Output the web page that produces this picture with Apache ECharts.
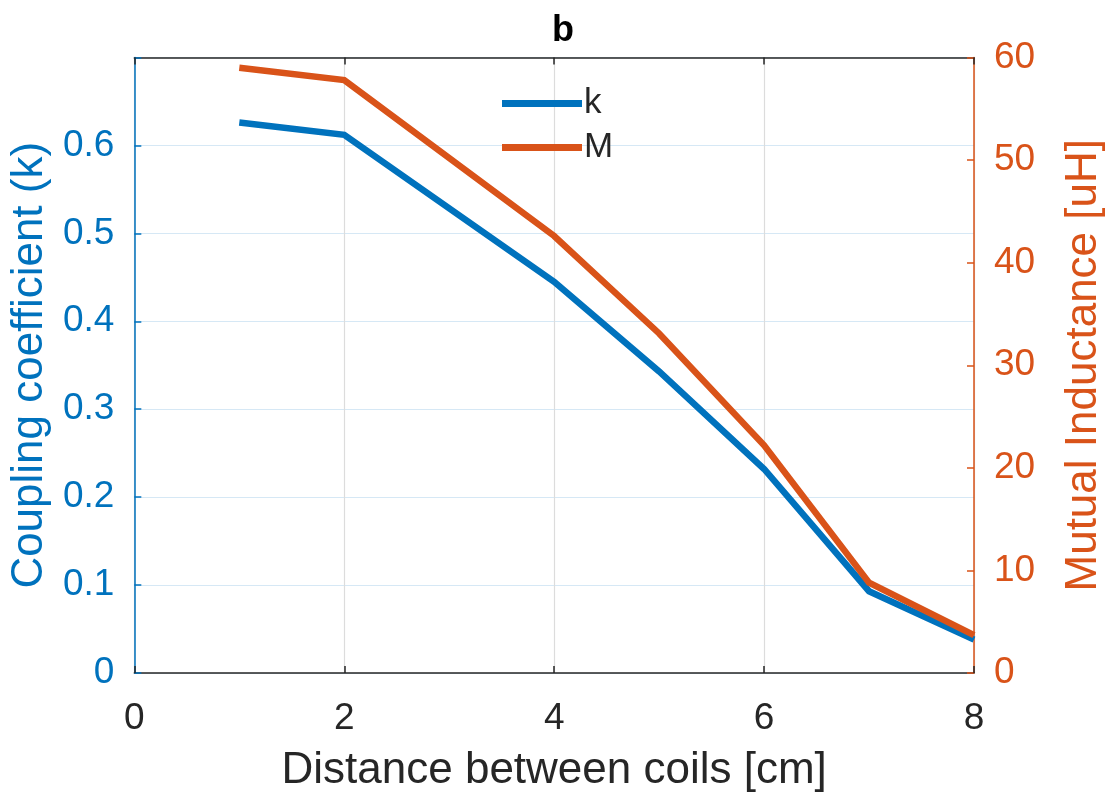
<!DOCTYPE html>
<html>
<head>
<meta charset="utf-8">
<script src="https://cdn.jsdelivr.net/npm/echarts@6/dist/echarts.min.js"></script>
<style>
html,body{margin:0;padding:0;background:#fff;overflow:hidden;}
#c{width:1114px;height:798px;}
</style>
</head>
<body>
<div id="c"></div>
<script>
var distance = [1, 2, 4, 5, 6, 7, 8];
var kValues = [0.626, 0.612, 0.445, 0.343, 0.232, 0.093, 0.038];
var mValues = [59.0, 57.8, 42.6, 33.1, 22.2, 8.8, 3.7];
var xTicks = [0, 2, 4, 6, 8];
var kTicks = [0, 0.1, 0.2, 0.3, 0.4, 0.5, 0.6];
var mTicks = [0, 10, 20, 30, 40, 50, 60];

var BLUE = '#0072BD', ORANGE = '#D95319', DARK = '#262626';
var FONT = '"Liberation Sans", Arial, Helvetica, sans-serif';

function pairs(xs, ys) { return xs.map(function (x, i) { return [x, ys[i]]; }); }

var chart = echarts.init(document.getElementById('c'), null, { renderer: 'canvas', width: 1114, height: 798 });
chart.setOption({
  backgroundColor: '#fff',
  animation: false,
  textStyle: { fontFamily: FONT },
  title: {
    text: 'b', left: 558, top: 8, textAlign: 'center',
    textStyle: { fontFamily: FONT, fontSize: 36, fontWeight: 'bold', color: '#000' }
  },
  grid: { left: 134, right: 131.5, top: 57.5, bottom: 123, containLabel: false },
  legend: {
    orient: 'vertical', left: 497, top: 81, itemGap: 9,
    icon: 'rect', itemWidth: 80, itemHeight: 7,
    textStyle: { fontFamily: FONT, fontSize: 35, color: DARK, padding: [0, 0, 0, -3] },
    data: ['k', 'M']
  },
  xAxis: [{
    type: 'value', min: xTicks[0], max: xTicks[xTicks.length - 1], interval: 2,
    name: 'Distance between coils [cm]', nameLocation: 'middle', nameGap: 76,
    nameTextStyle: { fontFamily: FONT, fontSize: 44, color: DARK },
    axisLine: { show: true, onZero: false, lineStyle: { color: DARK, width: 1.5 } },
    axisTick: { show: true, inside: true, length: 7, lineStyle: { color: DARK, width: 1.5 } },
    axisLabel: { fontFamily: FONT, fontSize: 37, color: DARK, margin: 27 },
    splitLine: { show: true, lineStyle: { color: '#dcdcdc', width: 1.2 } }
  }, {
    type: 'value', position: 'top', min: xTicks[0], max: xTicks[xTicks.length - 1], interval: 2,
    axisLine: { show: true, onZero: false, lineStyle: { color: DARK, width: 1.5 } },
    axisTick: { show: true, inside: true, length: 7, lineStyle: { color: DARK, width: 1.5 } },
    axisLabel: { show: false },
    splitLine: { show: false }
  }],
  yAxis: [{
    type: 'value', position: 'left', min: 0, max: 0.7, interval: 0.1,
    name: 'Coupling coefficient (k)', nameLocation: 'middle', nameGap: 72, nameRotate: 90,
    nameTextStyle: { fontFamily: FONT, fontSize: 44, color: BLUE },
    axisLine: { show: true, onZero: false, lineStyle: { color: BLUE, width: 1.5 } },
    axisTick: { show: true, inside: true, length: 7, lineStyle: { color: BLUE, width: 1.5 } },
    axisLabel: {
      fontFamily: FONT, fontSize: 37, color: BLUE, margin: 20,
      formatter: function (v) {
        var r = Math.round(v * 10) / 10;
        return kTicks.indexOf(r) >= 0 ? String(r) : '';
      }
    },
    splitLine: { show: true, lineStyle: { color: '#d6e8f5', width: 1.2 } }
  }, {
    type: 'value', position: 'right', min: mTicks[0], max: mTicks[mTicks.length - 1], interval: 10,
    name: 'Mutual Inductance [uH]', nameLocation: 'middle', nameGap: 88, nameRotate: 90,
    nameTextStyle: { fontFamily: FONT, fontSize: 44, color: ORANGE },
    axisLine: { show: true, onZero: false, lineStyle: { color: ORANGE, width: 1.5 } },
    axisTick: { show: true, inside: true, length: 7, lineStyle: { color: ORANGE, width: 1.5 } },
    axisLabel: { fontFamily: FONT, fontSize: 37, color: ORANGE, margin: 20 },
    splitLine: { show: false }
  }],
  series: [{
    name: 'k', type: 'line', xAxisIndex: 0, yAxisIndex: 0,
    data: pairs(distance, kValues), showSymbol: false, symbol: 'none',
    lineStyle: { color: BLUE, width: 6.5, join: 'miter' }, itemStyle: { color: BLUE }, z: 3
  }, {
    name: 'M', type: 'line', xAxisIndex: 0, yAxisIndex: 1,
    data: pairs(distance, mValues), showSymbol: false, symbol: 'none',
    lineStyle: { color: ORANGE, width: 6.5, join: 'miter' }, itemStyle: { color: ORANGE }, z: 4
  }]
});
</script>
</body>
</html>
